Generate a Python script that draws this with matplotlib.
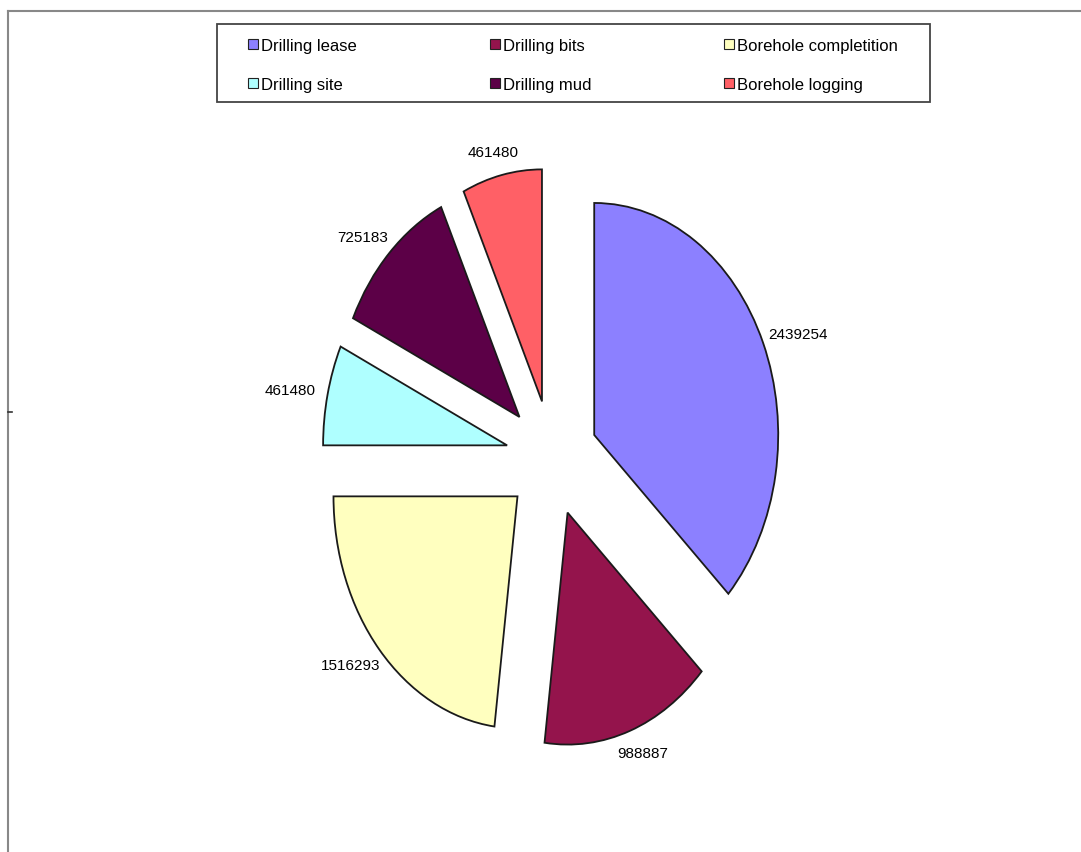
import matplotlib.pyplot as plt
from matplotlib.patches import Patch, Rectangle
from matplotlib.lines import Line2D

plt.rcParams['font.family'] = ['Liberation Sans Narrow', 'Liberation Sans', 'DejaVu Sans']

categories = ["Drilling lease", "Drilling bits", "Borehole completition",
              "Drilling site", "Drilling mud", "Borehole logging"]
values = [2439254, 988887, 1516293, 461480, 725183, 461480]
colors = ["#8C80FF", "#94144C", "#FFFFBF", "#AFFFFF", "#5C0047", "#FF6066"]

W, H = 1081, 853
fig = plt.figure(figsize=(W / 100, H / 100), dpi=100)

# pie centre at (552, 459) px, unit radius = 184 px wide, 232 px tall
ax = fig.add_axes([276 / W, 46 / H, 552 / W, 696 / H])
wedges, texts = ax.pie(values, explode=[0.25] * len(values), colors=colors,
                       labels=[str(v) for v in values], labeldistance=1.1,
                       startangle=90, counterclock=False,
                       wedgeprops=dict(edgecolor="#1a1a1a", linewidth=1.3),
                       textprops=dict(fontsize=11, color="black"))
for t in texts:
    x, y = t.get_position()
    t.set_position((x * 1.08, y))
    t.set_ha("center")
    t.set_va("center")
ax.set_aspect("auto")
ax.set_xlim(-1.5, 1.5)
ax.set_ylim(-1.5, 1.5)
ax.axis("off")

# legend box drawn separately, entries filled column by column
fig.add_artist(Rectangle((217 / W, 1 - 103 / H), 713 / W, 78 / H, transform=fig.transFigure,
                         facecolor="white", edgecolor="#444444", linewidth=1.3))
order = [0, 3, 1, 4, 2, 5]
handles = [Patch(facecolor=colors[i], edgecolor="#222222", linewidth=0.8) for i in order]
labels = [categories[i] for i in order]
leg = fig.legend(handles, labels, ncol=3, loc="upper left",
                 bbox_to_anchor=(248 / W, 1 - 39 / H), fontsize=12,
                 frameon=False, handlelength=0.6, handleheight=0.6,
                 handletextpad=0.2, columnspacing=7.95, labelspacing=1.43,
                 borderpad=0, borderaxespad=0)

# outer frame (top and left edges)
fig.add_artist(Line2D([8 / W, 1], [1 - 12 / H, 1 - 12 / H], color="#888888", linewidth=1.5))
fig.add_artist(Line2D([8 / W, 8 / W], [0, 1 - 12 / H], color="#888888", linewidth=1.5))
fig.add_artist(Line2D([8 / W, 12 / W], [1 - 413 / H, 1 - 413 / H], color="#333333", linewidth=1.2))

fig.savefig("out.png", dpi=100)
